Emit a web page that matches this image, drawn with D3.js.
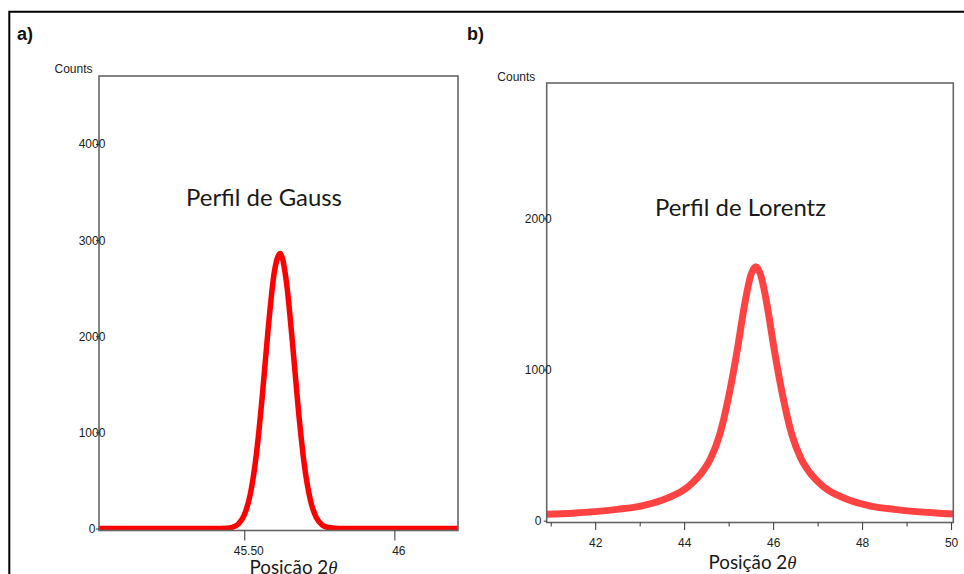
<!DOCTYPE html>
<html>
<head>
<meta charset="utf-8">
<script src="https://cdn.jsdelivr.net/npm/d3@7"></script>
<style>
  html, body { margin: 0; padding: 0; background: #fff; }
  svg { display: block; }
  .axis text { font-family: "Liberation Sans", Arial, sans-serif; font-size: 12px; fill: #222; }
  .axis line { stroke: #333; stroke-width: 1; }
  .axis path { display: none; }
</style>
</head>
<body>
<svg id="chart" width="964" height="574"></svg>
<script>
// ---- a) Gaussian profile: position 2θ (degrees) vs counts ----
const gaussPos    = [45.016, 45.40, 45.44, 45.46, 45.48, 45.50, 45.52, 45.54, 45.56, 45.58, 45.60,
                     45.62, 45.64, 45.66, 45.68, 45.70, 45.72, 45.74, 45.76, 45.78, 45.80, 45.84, 46.212];
const gaussCounts = [0, 0, 3, 13, 46, 140, 356, 764, 1378, 2091, 2666,
                     2860, 2574, 1950, 1242, 665, 299, 113, 36, 10, 3, 0, 0];
const gaussYTicks = [0, 1000, 2000, 3000, 4000];
const gaussXTicks = [45.5, 46];
const gaussXTickLabels = ["45.50", "46"];

// ---- b) Lorentzian profile: position 2θ (degrees) vs counts ----
const lorentzPos    = [40.91, 41.50, 42.00, 42.50, 43.00, 43.50, 43.80, 44.00, 44.20, 44.40, 44.60,
                       44.80, 45.00, 45.20, 45.35, 45.50, 45.61, 45.72, 45.87, 46.02, 46.22, 46.42,
                       46.62, 46.82, 47.02, 47.22, 47.42, 47.72, 48.22, 48.72, 49.22, 49.72, 50.05];
const lorentzCounts = [42, 50, 60, 75, 95, 135, 172, 205, 255, 320, 415,
                       570, 820, 1140, 1415, 1625, 1680, 1625, 1415, 1140, 820, 570,
                       415, 320, 255, 205, 172, 135, 95, 75, 60, 50, 44];
const lorentzYTicks = [0, 1000, 2000];
const lorentzXTicks = [42, 44, 46, 48, 50];
const lorentzMinorTicks = [41, 43, 45, 47, 49];

const svg = d3.select("#chart");

// outer frame (top and left edges)
svg.append("path")
  .attr("d", "M9.3,574 V11.7 H964")
  .attr("fill", "none").attr("stroke", "#000").attr("stroke-width", 2);

// panel letters
svg.append("text").attr("x", 17).attr("y", 40).text("a)")
  .attr("font-family", "Liberation Sans, Arial, sans-serif").attr("font-weight", "bold")
  .attr("font-size", 18).attr("fill", "#111");
svg.append("text").attr("x", 467).attr("y", 40).text("b)")
  .attr("font-family", "Liberation Sans, Arial, sans-serif").attr("font-weight", "bold")
  .attr("font-size", 18).attr("fill", "#111");

function fitWidth(sel, target) {
  const w = sel.node().getComputedTextLength();
  const fs = parseFloat(sel.attr("font-size"));
  sel.attr("font-size", (fs * target / w).toFixed(2));
}

function drawPanel(p) {
  const g = svg.append("g");
  const x = d3.scaleLinear().domain(p.xDomain).range([p.left, p.right]);
  const y = d3.scaleLinear().domain(p.yDomain).range([p.zeroY, p.top]);

  const clipId = "clip-" + p.id;
  svg.append("clipPath").attr("id", clipId)
    .append("rect").attr("x", p.left).attr("y", p.top)
    .attr("width", p.right - p.left).attr("height", p.bottom - p.top);

  // curve
  const line = d3.line().x((d, i) => x(p.xs[i])).y((d, i) => y(p.ys[i]))
    .curve(d3.curveMonotoneX);
  g.append("path")
    .attr("clip-path", `url(#${clipId})`)
    .attr("d", line(p.xs))
    .attr("fill", "none").attr("stroke", p.color)
    .attr("stroke-width", p.lineWidth).attr("stroke-linejoin", "round");

  // plot frame
  g.append("rect")
    .attr("x", p.left).attr("y", p.top)
    .attr("width", p.right - p.left).attr("height", p.bottom - p.top)
    .attr("fill", "none").attr("stroke", "#666").attr("stroke-width", 1.6);

  // y axis
  const ya = g.append("g").attr("class", "axis")
    .attr("transform", `translate(${p.left},0)`)
    .call(d3.axisLeft(y).tickValues(p.yTicks).tickSize(3).tickFormat(d3.format("d")));
  ya.selectAll("text").attr("text-anchor", "middle").attr("x", p.yLabelDx);

  // x axis (major)
  const xa = g.append("g").attr("class", "axis")
    .attr("transform", `translate(0,${p.bottom})`)
    .call(d3.axisBottom(x).tickValues(p.xTicks).tickSize(p.majorTick)
      .tickPadding(p.xPad).tickFormat((d, i) => p.xLabels[i]));
  xa.selectAll("text").attr("dx", p.xLabelDx);

  // x axis (minor)
  if (p.minorTicks) {
    g.append("g").attr("class", "axis")
      .attr("transform", `translate(0,${p.bottom})`)
      .call(d3.axisBottom(x).tickValues(p.minorTicks).tickSize(4).tickFormat(""));
  }

  // "Counts" label
  g.append("text").attr("x", p.countsX).attr("y", p.countsY).text("Counts")
    .attr("font-family", "Liberation Sans, Arial, sans-serif").attr("font-size", 12).attr("fill", "#222");

  // profile title
  const t = g.append("text").attr("x", p.titleX).attr("y", p.titleY)
    .attr("text-anchor", "middle").attr("font-family", "Lato, 'Open Sans', sans-serif")
    .attr("font-size", 22).attr("fill", "#1a1a1a").text(p.title);
  fitWidth(t, p.titleW);

  // x axis title
  const xt = g.append("text").attr("x", p.xTitleX).attr("y", p.xTitleY)
    .attr("text-anchor", "middle").attr("font-family", "Lato, 'Open Sans', sans-serif")
    .attr("font-size", 18).attr("fill", "#1a1a1a");
  xt.append("tspan").text("Posição 2");
  xt.append("tspan").text("θ").attr("font-style", "italic")
    .attr("font-family", "'Liberation Serif', 'DejaVu Serif', serif");
  fitWidth(xt, 88);
}

drawPanel({
  id: "gauss", xs: gaussPos, ys: gaussCounts, color: "#ff0000", lineWidth: 5.5,
  left: 99, right: 458, top: 76, bottom: 530.5, zeroY: 528.5,
  xDomain: [45.016, 46.212], yDomain: [0, 4708],
  yTicks: gaussYTicks, yLabelDx: -7,
  xTicks: gaussXTicks, xLabels: gaussXTickLabels, majorTick: 10, xPad: 6, xLabelDx: 4,
  countsX: 54.5, countsY: 72.5,
  title: "Perfil de Gauss", titleX: 264, titleY: 206, titleW: 156,
  xTitleX: 293.5, xTitleY: 574
});

drawPanel({
  id: "lorentz", xs: lorentzPos, ys: lorentzCounts, color: "#ff4343", lineWidth: 7,
  left: 546.7, right: 953.3, top: 83, bottom: 522.5, zeroY: 520.7,
  xDomain: [40.91, 50.05], yDomain: [0, 2895],
  yTicks: lorentzYTicks, yLabelDx: -8.5,
  xTicks: lorentzXTicks, xLabels: lorentzXTicks.map(String), majorTick: 7.5, xPad: 8, xLabelDx: 0,
  minorTicks: lorentzMinorTicks,
  countsX: 497.3, countsY: 80.5,
  title: "Perfil de Lorentz", titleX: 740.5, titleY: 216, titleW: 171,
  xTitleX: 752.5, xTitleY: 568.5
});
</script>
</body>
</html>
